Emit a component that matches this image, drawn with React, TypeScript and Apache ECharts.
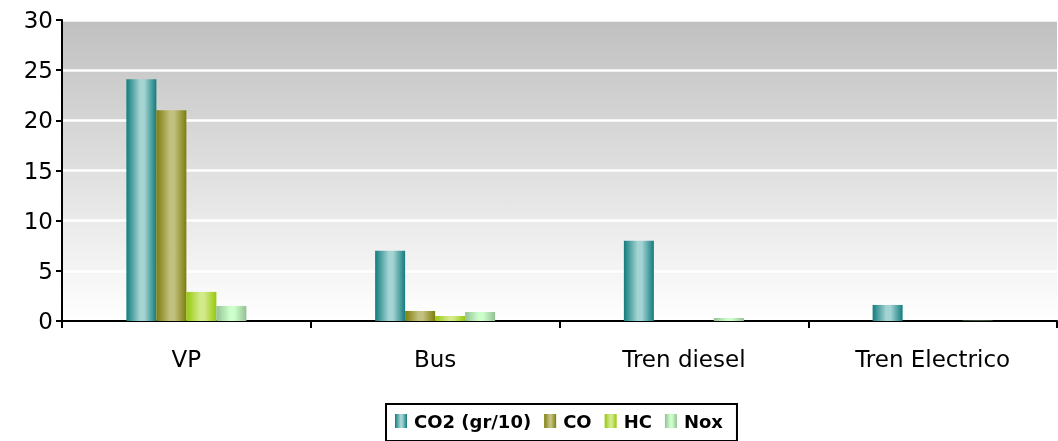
import React, { useEffect, useRef } from "react";
import * as echarts from "echarts";

const categories = ["VP", "Bus", "Tren diesel", "Tren Electrico"];
const seriesNames = ["CO2 (gr/10)", "CO", "HC", "Nox"];
const co2 = [24.1, 7.0, 8.0, 1.6];
const co = [21.0, 1.0, 0, 0];
const hc = [2.9, 0.5, 0, 0];
const nox = [1.5, 0.9, 0.3, 0.03];
const yTicks = { min: 0, max: 30, interval: 5 };

const palettes = [
  ["#137c7c", "#a3d3d3", "#137c7c"],
  ["#7d7d0c", "#c2c07e", "#7d7d0c"],
  ["#96c80a", "#d2ea8a", "#96c80a"],
  ["#94c094", "#ccffcc", "#94c094"],
];

const FONT = "DejaVu Sans, Liberation Sans, Arial, sans-serif";

function grad(p: string[]) {
  return new echarts.graphic.LinearGradient(0, 0, 1, 0, [
    { offset: 0, color: p[0] },
    { offset: 0.45, color: p[1] },
    { offset: 0.6, color: p[1] },
    { offset: 1, color: p[2] },
  ]);
}

export default function App() {
  const ref = useRef<HTMLDivElement>(null);
  useEffect(() => {
    if (!ref.current) return;
    const chart = echarts.init(ref.current, null, { renderer: "svg" });
    const data = [co2, co, hc, nox];
    chart.setOption({
      animation: false,
      textStyle: { fontFamily: FONT },
      grid: {
        left: 62,
        right: 1,
        top: 20,
        bottom: 120,
        show: true,
        borderWidth: 0,
        backgroundColor: new echarts.graphic.LinearGradient(0, 0, 0, 1, [
          { offset: 0, color: "#c0c0c0" },
          { offset: 1, color: "#ffffff" },
        ]),
      },
      legend: {
        left: 386,
        top: 404,
        data: seriesNames,
        icon: "rect",
        itemWidth: 12,
        itemHeight: 14,
        itemGap: 13,
        borderColor: "#000",
        borderWidth: 2,
        padding: [8, 14, 11, 9],
        textStyle: {
          fontSize: 18,
          fontWeight: "bold",
          color: "#000",
          fontFamily: FONT,
          padding: [0, 0, 0, 2],
        },
      },
      xAxis: {
        type: "category",
        data: categories,
        boundaryGap: true,
        axisLine: { lineStyle: { color: "#000", width: 2 } },
        axisTick: { show: true, length: 7, alignWithLabel: false, lineStyle: { color: "#000", width: 2 } },
        axisLabel: { fontSize: 23, color: "#000", margin: 26, fontFamily: FONT },
      },
      yAxis: {
        type: "value",
        min: yTicks.min,
        max: yTicks.max,
        interval: yTicks.interval,
        axisLine: { show: true, lineStyle: { color: "#000", width: 2 } },
        axisTick: { show: true, length: 6, lineStyle: { color: "#000", width: 2 } },
        axisLabel: { fontSize: 23, color: "#000", margin: 9, fontFamily: FONT },
        splitLine: { show: true, lineStyle: { color: "#ffffff", width: 2.5 } },
      },
      series: seriesNames.map((name, i) => ({
        name,
        type: "bar",
        data: data[i],
        barWidth: 30,
        barGap: "0%",
        itemStyle: { color: grad(palettes[i]) },
      })),
    });
    return () => chart.dispose();
  }, []);
  return (
    <div
      ref={ref}
      style={{ position: "fixed", left: 0, top: 0, width: 1058, height: 441 }}
    />
  );
}
